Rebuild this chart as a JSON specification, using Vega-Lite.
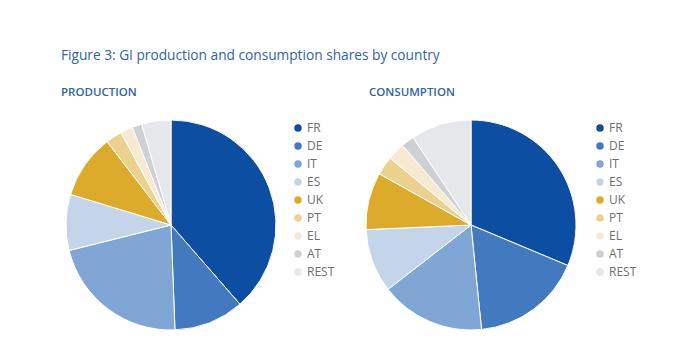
{
  "$schema": "https://vega.github.io/schema/vega-lite/v6.json",
  "background": "white",
  "padding": {"left": 61, "top": 48, "right": 5, "bottom": 5},
  "title": {
    "text": "Figure 3: GI production and consumption shares by country",
    "anchor": "start",
    "dx": 0,
    "font": "Open Sans",
    "fontSize": 13.7,
    "fontWeight": "normal",
    "color": "#2f62ad",
    "offset": 24
  },
  "datasets": {
    "shares": [
      {"panel": "PRODUCTION", "country": "FR", "ord": 1, "share": 38.6},
      {"panel": "PRODUCTION", "country": "DE", "ord": 2, "share": 10.8},
      {"panel": "PRODUCTION", "country": "IT", "ord": 3, "share": 21.7},
      {"panel": "PRODUCTION", "country": "ES", "ord": 4, "share": 8.6},
      {"panel": "PRODUCTION", "country": "UK", "ord": 5, "share": 9.9},
      {"panel": "PRODUCTION", "country": "PT", "ord": 6, "share": 2.5},
      {"panel": "PRODUCTION", "country": "EL", "ord": 7, "share": 1.9},
      {"panel": "PRODUCTION", "country": "AT", "ord": 8, "share": 1.5},
      {"panel": "PRODUCTION", "country": "REST", "ord": 9, "share": 4.5},
      {"panel": "CONSUMPTION", "country": "FR", "ord": 1, "share": 31.3},
      {"panel": "CONSUMPTION", "country": "DE", "ord": 2, "share": 17.1},
      {"panel": "CONSUMPTION", "country": "IT", "ord": 3, "share": 16.1},
      {"panel": "CONSUMPTION", "country": "ES", "ord": 4, "share": 9.8},
      {"panel": "CONSUMPTION", "country": "UK", "ord": 5, "share": 8.8},
      {"panel": "CONSUMPTION", "country": "PT", "ord": 6, "share": 2.9},
      {"panel": "CONSUMPTION", "country": "EL", "ord": 7, "share": 2.7},
      {"panel": "CONSUMPTION", "country": "AT", "ord": 8, "share": 2.0},
      {"panel": "CONSUMPTION", "country": "REST", "ord": 9, "share": 9.3}
    ]
  },
  "data": {"name": "shares"},
  "config": {
    "view": {"stroke": null},
    "concat": {"spacing": 27},
    "font": "Open Sans"
  },
  "resolve": {"scale": {"color": "independent"}},
  "hconcat": [
    {
      "width": 210,
      "height": 210,
      "title": {
        "text": "PRODUCTION",
        "anchor": "start",
        "dx": -3,
        "font": "Open Sans",
        "fontSize": 11.5,
        "fontWeight": 600,
        "color": "#2f62ad",
        "offset": 20
      },
      "transform": [{"filter": "datum.panel === 'PRODUCTION'"}],
      "mark": {"type": "arc", "stroke": "white", "strokeWidth": 1},
      "encoding": {
        "theta": {"field": "share", "type": "quantitative", "stack": true},
        "order": {"field": "ord", "type": "quantitative"},
        "color": {
          "field": "country",
          "type": "nominal",
          "scale": {
            "domain": ["FR", "DE", "IT", "ES", "UK", "PT", "EL", "AT", "REST"],
            "range": ["#0b4ea2", "#4379be", "#7fa6d4", "#c4d5ea", "#ddab2b", "#ecd08e", "#f6ead2", "#cdd0d5", "#e5e7ea"]
          },
          "legend": {
            "title": null,
            "symbolType": "circle",
            "symbolSize": 80,
            "labelFont": "Open Sans",
            "labelFontSize": 12,
            "labelColor": "#6e6e6e",
            "rowPadding": 2,
            "offset": 14,
            "padding": 2,
            "labelOffset": 3
          }
        }
      }
    },
    {
      "width": 210,
      "height": 210,
      "title": {
        "text": "CONSUMPTION",
        "anchor": "start",
        "dx": 5,
        "font": "Open Sans",
        "fontSize": 11.5,
        "fontWeight": 600,
        "color": "#2f62ad",
        "offset": 20
      },
      "transform": [{"filter": "datum.panel === 'CONSUMPTION'"}],
      "mark": {"type": "arc", "stroke": "white", "strokeWidth": 1},
      "encoding": {
        "theta": {"field": "share", "type": "quantitative", "stack": true},
        "order": {"field": "ord", "type": "quantitative"},
        "color": {
          "field": "country",
          "type": "nominal",
          "scale": {
            "domain": ["FR", "DE", "IT", "ES", "UK", "PT", "EL", "AT", "REST"],
            "range": ["#0b4ea2", "#4379be", "#7fa6d4", "#c4d5ea", "#ddab2b", "#ecd08e", "#f6ead2", "#cdd0d5", "#e5e7ea"]
          },
          "legend": {
            "title": null,
            "symbolType": "circle",
            "symbolSize": 80,
            "labelFont": "Open Sans",
            "labelFontSize": 12,
            "labelColor": "#6e6e6e",
            "rowPadding": 2,
            "offset": 16,
            "padding": 2,
            "labelOffset": 3
          }
        }
      }
    }
  ]
}
